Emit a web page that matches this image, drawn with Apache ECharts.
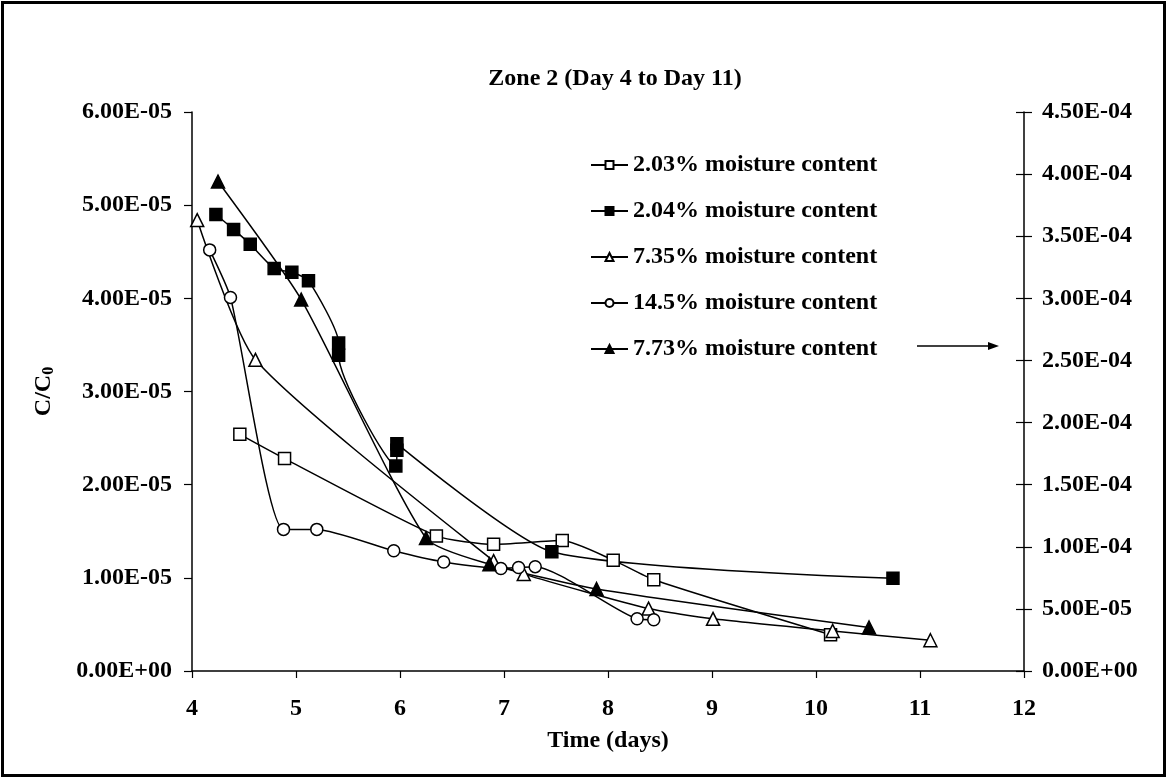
<!DOCTYPE html>
<html>
<head>
<meta charset="utf-8">
<title>Zone 2 (Day 4 to Day 11)</title>
<script src="https://cdn.jsdelivr.net/npm/echarts@6/dist/echarts.min.js"></script>
<style>
  html, body { margin: 0; padding: 0; background: #fff; }
  #chart { width: 1166px; height: 777px; }
</style>
</head>
<body>
<div id="chart"></div>
<script>
"use strict";
// time (days) and C/C0 for each moisture content
var t203 = [4.46, 4.89, 6.35, 6.90, 7.56, 8.05, 8.44, 10.14];
var c203 = [2.54e-5, 2.28e-5, 1.45e-5, 1.36e-5, 1.40e-5, 1.19e-5, 0.98e-5, 0.39e-5];

var t204 = [4.23, 4.40, 4.56, 4.79, 4.96, 5.12, 5.41, 5.41, 5.96, 5.97, 5.97, 7.46, 10.74];
var c204 = [4.90e-5, 4.74e-5, 4.58e-5, 4.32e-5, 4.28e-5, 4.19e-5, 3.52e-5, 3.39e-5, 2.20e-5, 2.37e-5, 2.44e-5, 1.28e-5, 0.995e-5];

var t735 = [4.05, 4.61, 6.90, 7.19, 8.39, 9.01, 10.16, 11.10];
var c735 = [4.84e-5, 3.34e-5, 1.18e-5, 1.04e-5, 0.67e-5, 0.56e-5, 0.43e-5, 0.33e-5];

var t145 = [4.17, 4.37, 4.88, 5.20, 5.94, 6.42, 6.97, 7.14, 7.30, 8.28, 8.44];
var c145 = [4.52e-5, 4.01e-5, 1.52e-5, 1.52e-5, 1.29e-5, 1.17e-5, 1.10e-5, 1.11e-5, 1.12e-5, 0.56e-5, 0.55e-5];

// plotted against the right axis
var t773 = [4.25, 5.05, 6.25, 6.86, 7.89, 10.51];
var c773 = [3.94e-4, 2.99e-4, 1.07e-4, 0.86e-4, 0.66e-4, 0.35e-4];

var names = ['2.03% moisture content', '2.04% moisture content', '7.35% moisture content',
             '14.5% moisture content', '7.73% moisture content'];

function pairs(t, c) {
    return t.map(function (v, i) { return [v, c[i]]; });
}
function sci(v) {
    if (Math.abs(v) < 1e-12) return '0.00E+00';
    var p = v.toExponential(2).split('e');
    var e = parseInt(p[1], 10);
    var s = e < 0 ? '-' : '+';
    e = Math.abs(e);
    return p[0] + 'E' + s + (e < 10 ? '0' + e : e);
}

var FONT = "'Liberation Serif', 'Times New Roman', serif";
var txt = { color: '#000', fontFamily: FONT, fontWeight: 'bold', fontSize: 24 };

function line(name, data, symbol, size, filled, yIdx) {
    return {
        name: name,
        type: 'line',
        yAxisIndex: yIdx,
        data: data,
        smooth: 0.2,
        symbol: symbol,
        symbolSize: size,
        showAllSymbol: true,
        lineStyle: { color: '#000', width: 1.5 },
        itemStyle: { color: filled ? '#000' : '#fff', borderColor: '#000', borderWidth: 1.5 },
        emphasis: { disabled: true },
        z: 3
    };
}

var chart = echarts.init(document.getElementById('chart'));
var option = {
    backgroundColor: '#fff',
    animation: false,
    title: {
        text: 'Zone 2 (Day 4 to Day 11)',
        left: 610,
        top: 62,
        textAlign: 'center',
        textStyle: txt
    },
    legend: {
        orient: 'vertical',
        left: 585,
        top: 148,
        itemWidth: 37,
        itemHeight: 10,
        itemGap: 22,
        textStyle: txt,
        data: names
    },
    grid: { left: 192, right: 142, top: 112, bottom: 106 },
    xAxis: {
        type: 'value',
        min: 4, max: 12, interval: 1,
        name: 'Time (days)',
        nameLocation: 'middle',
        nameGap: 58,
        nameTextStyle: txt,
        axisLine: { lineStyle: { color: '#000', width: 1.5 } },
        axisTick: { length: 7, lineStyle: { color: '#000', width: 1.2 } },
        axisLabel: Object.assign({ margin: 26 }, txt),
        splitLine: { show: false }
    },
    yAxis: [{
        type: 'value',
        min: 0, max: 6e-5, interval: 1e-5,
        name: '{a|C/C}{b|0}',
        nameLocation: 'middle',
        nameGap: 135,
        nameRotate: 90,
        nameTextStyle: {
            rich: {
                a: txt,
                b: { color: '#000', fontFamily: FONT, fontWeight: 'bold', fontSize: 16, verticalAlign: 'bottom', padding: [11, 0, 0, 0] }
            }
        },
        axisLine: { show: true, lineStyle: { color: '#000', width: 1.5 } },
        axisTick: { length: 8, lineStyle: { color: '#000', width: 1.2 } },
        axisLabel: Object.assign({ margin: 20, formatter: sci }, txt),
        splitLine: { show: false }
    }, {
        type: 'value',
        position: 'right',
        min: 0, max: 4.5e-4, interval: 5e-5,
        axisLine: { show: true, lineStyle: { color: '#000', width: 1.5 } },
        axisTick: { length: 8, lineStyle: { color: '#000', width: 1.2 } },
        axisLabel: Object.assign({ margin: 18, formatter: sci }, txt),
        splitLine: { show: false }
    }, {
        type: 'value',
        position: 'right',
        min: 0, max: 4.5e-4, interval: 5e-5,
        axisLine: { show: false },
        axisTick: { inside: true, length: 8, lineStyle: { color: '#000', width: 1.2 } },
        axisLabel: { show: false },
        splitLine: { show: false }
    }],
    series: [
        line(names[0], pairs(t203, c203), 'rect', 12, false, 0),
        line(names[1], pairs(t204, c204), 'rect', 12, true, 0),
        line(names[2], pairs(t735, c735), 'triangle', 13, false, 0),
        line(names[3], pairs(t145, c145), 'circle', 12, false, 0),
        line(names[4], pairs(t773, c773), 'triangle', 13, true, 1)
    ],
    graphic: [
        { type: 'rect', left: 0, top: 0, shape: { x: 1.5, y: 1.5, width: 1162, height: 773 },
          style: { fill: 'none', stroke: '#000', lineWidth: 3 }, silent: true },
        { type: 'line', shape: { x1: 917, y1: 346, x2: 990, y2: 346 },
          style: { stroke: '#000', lineWidth: 1.5 }, silent: true },
        { type: 'polygon', shape: { points: [[999, 346], [988, 342], [988, 350]] },
          style: { fill: '#000' }, silent: true }
    ]
};
chart.setOption(option);
</script>
</body>
</html>
